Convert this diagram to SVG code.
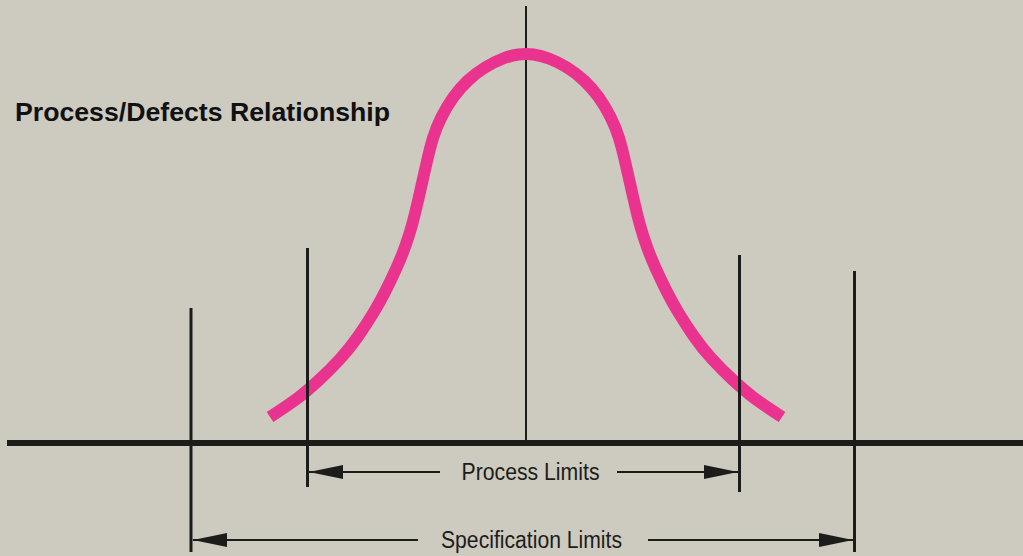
<svg xmlns="http://www.w3.org/2000/svg" width="1023" height="556" viewBox="0 0 1023 556">
  <style>
    .lim { stroke: #1c1c1a; stroke-width: 3; fill: none; }
    .shaft { stroke: #1c1c1a; stroke-width: 2; fill: none; marker-end: url(#head); }
    .lbl { font-family: "Liberation Sans", Arial, sans-serif; font-size: 23px; fill: #1c1c1a; }
    .title { font-family: "Liberation Sans", Arial, sans-serif; font-size: 26px; font-weight: bold; fill: #111; }
  </style>
  <defs>
    <marker id="head" viewBox="0 0 34 14" refX="34" refY="7" markerWidth="34" markerHeight="14" markerUnits="userSpaceOnUse" orient="auto">
      <path d="M0,0 L34,7 L0,14 Z" fill="#1c1c1a"/>
    </marker>
  </defs>
  <rect width="1023" height="556" fill="#cdcabf"/>

  <g id="title">
    <text class="title" x="15" y="121" textLength="375" lengthAdjust="spacingAndGlyphs">Process/Defects Relationship</text>
  </g>

  <g id="center-line">
    <line x1="526" y1="6" x2="526" y2="443" stroke="#1c1c1a" stroke-width="2"/>
  </g>

  <g id="curve">
    <path d="M270,417 Q290,404 298.5,397.5 Q307,391 318.5,380.5 Q330,370 340,359 Q350,348 358,336.5 Q366,325 373,313.5 Q380,302 385.5,291 Q391,280 396,269 Q401,258 405,247 Q409,236 412,225 Q415,214 417.5,203 Q420,192 422.5,181 Q425,170 427.5,159 Q430,148 433,138 Q436,128 441.5,117 Q447,106 453.5,97 Q460,88 468,80.5 Q476,73 485,67.5 Q494,62 502.5,58.75 Q511,55.5 518.5,54.5 Q526,53.5 533.5,54.5 Q541,55.5 549.5,58.75 Q558,62 567,67.5 Q576,73 584,80.5 Q592,88 598.5,97 Q605,106 610.5,117 Q616,128 619,138 Q622,148 624.5,159 Q627,170 629.5,181 Q632,192 634.5,203 Q637,214 640,225 Q643,236 647,247 Q651,258 656,269 Q661,280 666.5,291 Q672,302 679,313.5 Q686,325 694,336.5 Q702,348 712,359 Q722,370 733.5,380.5 Q745,391 753.5,397.5 Q762,404 782,417" fill="none" stroke="#e9338f" stroke-width="12" stroke-linecap="butt" stroke-linejoin="round"/>
  </g>

  <g id="spec-left"><line class="lim" x1="191" y1="308" x2="191" y2="552"/></g>
  <g id="process-left"><line class="lim" x1="307.5" y1="248" x2="307.5" y2="487"/></g>
  <g id="process-right"><line class="lim" x1="739.5" y1="255" x2="739.5" y2="492"/></g>
  <g id="spec-right"><line class="lim" x1="854.5" y1="271" x2="854.5" y2="552"/></g>

  <g id="axis">
    <line x1="7" y1="443" x2="1023" y2="443" stroke="#1c1c1a" stroke-width="6"/>
  </g>

  <g id="connectors">
    <line class="shaft" x1="440" y1="472" x2="309" y2="472"/>
    <line class="shaft" x1="617" y1="472" x2="738" y2="472"/>
    <line class="shaft" x1="418" y1="540" x2="193" y2="540"/>
    <line class="shaft" x1="648" y1="540" x2="853" y2="540"/>
  </g>

  <g id="process-label">
    <text class="lbl" x="461.5" y="480" textLength="138" lengthAdjust="spacingAndGlyphs">Process Limits</text>
  </g>
  <g id="spec-label">
    <text class="lbl" x="441" y="548" textLength="181" lengthAdjust="spacingAndGlyphs">Specification Limits</text>
  </g>
</svg>
